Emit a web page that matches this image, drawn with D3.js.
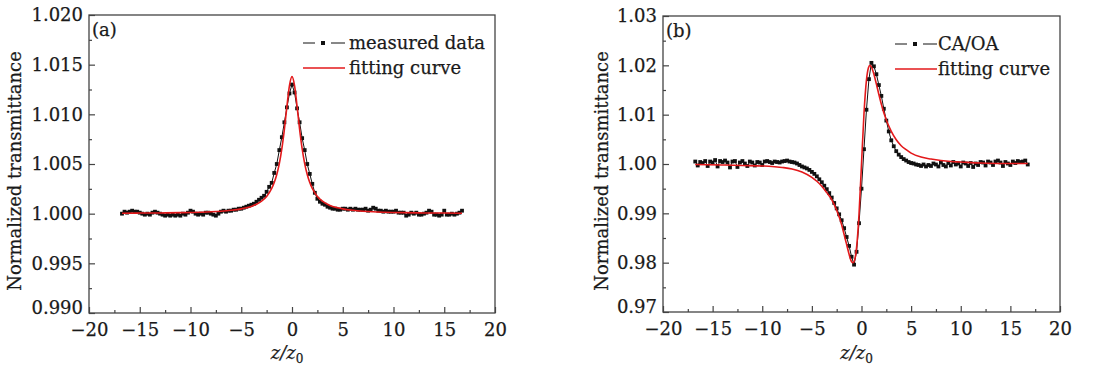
<!DOCTYPE html>
<html>
<head>
<meta charset="utf-8">
<script src="https://cdn.jsdelivr.net/npm/d3@7"></script>
<style>
  body { margin: 0; background: #fff; }
  svg text { font-family: "DejaVu Serif", serif; fill: #1a1a1a; stroke: #1a1a1a; stroke-width: 0.25px; }
</style>
</head>
<body>
<svg id="chart" width="1093" height="367"></svg>
<script>
// z/z0 positions of the measured points (shared by both panels)
const zPos = [
  -16.75, -16.5, -16.25, -16, -15.75, -15.5, -15.25, -15, -14.75, -14.5, -14.25, -14,
  -13.75, -13.5, -13.25, -13, -12.75, -12.5, -12.25, -12, -11.75, -11.5, -11.25, -11,
  -10.75, -10.5, -10.25, -10, -9.75, -9.5, -9.25, -9, -8.75, -8.5, -8.25, -8,
  -7.75, -7.5, -7.25, -7, -6.75, -6.5, -6.25, -6, -5.75, -5.5, -5.25, -5,
  -4.75, -4.5, -4.25, -4, -3.75, -3.5, -3.25, -3, -2.75, -2.5, -2.25, -2,
  -1.75, -1.5, -1.25, -1, -0.75, -0.5, -0.25, 0, 0.25, 0.5, 0.75, 1,
  1.25, 1.5, 1.75, 2, 2.25, 2.5, 2.75, 3, 3.25, 3.5, 3.75, 4,
  4.25, 4.5, 4.75, 5, 5.25, 5.5, 5.75, 6, 6.25, 6.5, 6.75, 7,
  7.25, 7.5, 7.75, 8, 8.25, 8.5, 8.75, 9, 9.25, 9.5, 9.75, 10,
  10.25, 10.5, 10.75, 11, 11.25, 11.5, 11.75, 12, 12.25, 12.5, 12.75, 13,
  13.25, 13.5, 13.75, 14, 14.25, 14.5, 14.75, 15, 15.25, 15.5, 15.75, 16,
  16.25, 16.5, 16.75
];

// (a) measured data
const measuredA = [
  1.0000, 1.0002, 1.0001, 1.0002, 1.0003, 1.0002, 1.0002, 1.0001, 1.0000, 0.9999, 1.0000, 0.9999,
  1.0001, 1.0002, 1.0001, 1.0000, 0.9999, 0.9998, 0.9999, 0.9998, 0.9999, 0.9998, 0.9999, 0.9998,
  1.0000, 0.9999, 1.0001, 1.0003, 1.0002, 1.0000, 0.9999, 1.0000, 0.9999, 1.0001, 1.0001, 1.0000,
  0.9999, 0.9998, 1.0000, 1.0002, 1.0003, 1.0002, 1.0003, 1.0003, 1.0004, 1.0004, 1.0005, 1.0005,
  1.0006, 1.0007, 1.0008, 1.0009, 1.0010, 1.0012, 1.0014, 1.0016, 1.0018, 1.0022, 1.0027, 1.0031,
  1.0041, 1.0050, 1.0064, 1.0077, 1.0092, 1.0107, 1.0121, 1.0130, 1.0122, 1.0106, 1.0092, 1.0076,
  1.0064, 1.0050, 1.0040, 1.0030, 1.0021, 1.0015, 1.0012, 1.0010, 1.0009, 1.0007, 1.0006, 1.0005,
  1.0005, 1.0004, 1.0004, 1.0005, 1.0005, 1.0004, 1.0005, 1.0004, 1.0005, 1.0004, 1.0004, 1.0004,
  1.0005, 1.0003, 1.0004, 1.0006, 1.0005, 1.0003, 1.0003, 1.0002, 1.0003, 1.0002, 1.0002, 1.0002,
  1.0003, 1.0001, 1.0001, 1.0001, 0.9998, 0.9999, 1.0001, 1.0000, 1.0001, 0.9999, 0.9999, 1.0000,
  1.0001, 1.0003, 1.0002, 0.9999, 0.9999, 0.9998, 0.9999, 1.0003, 0.9999, 0.9999, 1.0000, 0.9999,
  1.0000, 1.0001, 1.0003
];

// (b) measured CA/OA
const measuredB = [
  1.0005, 0.9997, 1.0004, 1.0002, 1.0006, 0.9996, 1.0005, 1.0003, 1.0008, 0.9995, 1.0006, 1.0004,
  1.0007, 1.0003, 0.9993, 1.0005, 1.0006, 0.9994, 1.0003, 1.0006, 1.0001, 0.9996, 1.0005, 1.0003,
  0.9997, 1.0004, 1.0003, 0.9998, 1.0005, 1.0006, 1.0004, 1.0002, 1.0005, 1.0004, 1.0003, 1.0005,
  1.0006, 1.0007, 1.0005, 1.0004, 1.0003, 1.0001, 0.9998, 0.9995, 0.9993, 0.9991, 0.9988, 0.9984,
  0.9980, 0.9975, 0.9969, 0.9963, 0.9956, 0.9949, 0.9941, 0.9932, 0.9921, 0.9910, 0.9898, 0.9886,
  0.9870, 0.9852, 0.9834, 0.9812, 0.9796, 0.9822, 0.9880, 0.9950, 1.0030, 1.0110, 1.0172, 1.0205,
  1.0198, 1.0182, 1.0160, 1.0138, 1.0112, 1.0088, 1.0066, 1.0048, 1.0036, 1.0026, 1.0019, 1.0014,
  1.0010, 1.0007, 1.0004, 1.0002, 1.0001, 0.9999, 0.9998, 0.9996, 0.9999, 0.9995, 0.9998, 0.9996,
  1.0001, 0.9999, 0.9995, 1.0003, 0.9998, 0.9995, 1.0002, 0.9997, 1.0004, 0.9999, 1.0001, 0.9995,
  1.0003, 1.0001, 0.9996, 1.0002, 0.9994, 1.0001, 0.9998, 1.0004, 1.0003, 0.9997, 1.0005, 1.0003,
  0.9998, 1.0005, 1.0007, 1.0003, 0.9996, 1.0004, 1.0001, 0.9998, 1.0005, 1.0002, 1.0006, 1.0004,
  1.0005, 1.0007, 0.9999
];

// fitting curves
const fitZA = [
  -16.75, -15, -13, -11, -9, -8, -7, -6, -5, -4.5, -4, -3.5, -3, -2.5, -2, -1.75, -1.5, -1.25,
  -1, -0.75, -0.5, -0.25, 0, 0.25, 0.5, 0.75, 1, 1.25, 1.5, 1.75, 2, 2.5, 3, 3.5, 4, 4.5,
  5, 6, 7, 8, 9, 11, 13, 15, 16.75
];
const fitA = [
  1.00004, 1.00006, 1.00007, 1.00010, 1.00015, 1.00019, 1.00025, 1.00034, 1.00048, 1.00059, 1.00073, 1.00095, 1.00126, 1.00174, 1.00254, 1.00314, 1.00394, 1.00504,
  1.00654, 1.00849, 1.01080, 1.01290, 1.01380, 1.01290, 1.01080, 1.00849, 1.00654, 1.00504, 1.00394, 1.00314, 1.00254, 1.00174, 1.00126, 1.00095, 1.00073, 1.00059,
  1.00048, 1.00034, 1.00025, 1.00019, 1.00015, 1.00010, 1.00007, 1.00006, 1.00004
];
const fitZB = [
  -16.75, -14, -12, -10, -9, -8, -7, -6, -5, -4.5, -4, -3.5, -3, -2.5, -2, -1.75, -1.5, -1.25,
  -1, -0.85, -0.7, -0.5, -0.25, 0, 0.25, 0.5, 0.7, 0.85, 1, 1.25, 1.5, 1.75, 2, 2.5, 3, 3.5,
  4, 4.5, 5, 6, 7, 8, 9, 10, 12, 14, 16.75
];
const fitB = [
  0.9999, 0.9998, 0.9997, 0.9996, 0.9995, 0.9993, 0.9990, 0.9984, 0.9973, 0.9965, 0.9955, 0.9942, 0.9928, 0.9906, 0.9877, 0.9857, 0.9837, 0.9817,
  0.9802, 0.9800, 0.9805, 0.9830, 0.9898, 1.0000, 1.0102, 1.0170, 1.0195, 1.0200, 1.0197, 1.0182, 1.0162, 1.0141, 1.0121, 1.0089, 1.0066, 1.0049,
  1.0037, 1.0029, 1.0022, 1.0014, 1.0010, 1.0007, 1.0005, 1.0004, 1.0002, 1.0001, 1.0001
];

const xTicks = [-20, -15, -10, -5, 0, 5, 10, 15, 20];
const xMinor = [-17.5, -12.5, -7.5, -2.5, 2.5, 7.5, 12.5, 17.5];
const yTicksA = [0.990, 0.995, 1.000, 1.005, 1.010, 1.015, 1.020];
const yMinorA = [0.9925, 0.9975, 1.0025, 1.0075, 1.0125, 1.0175];
const yTicksB = [0.97, 0.98, 0.99, 1.00, 1.01, 1.02, 1.03];
const yMinorB = [0.975, 0.985, 0.995, 1.005, 1.015, 1.025];

const RED = '#e3191b';
const FS = 18;
const svg = d3.select('#chart');
svg.append('rect').attr('width', 1093).attr('height', 367).attr('fill', '#fff');

function drawPanel(p) {
  const x = d3.scaleLinear().domain([-20, 20]).range([p.left, p.right]);
  const y = d3.scaleLinear().domain(p.yDomain).range([p.bottom, p.top]);
  const g = svg.append('g');

  // minor ticks
  g.append('g')
    .attr('transform', `translate(0,${p.bottom})`)
    .call(d3.axisBottom(x).tickValues(xMinor).tickSize(-3).tickSizeOuter(0).tickFormat(''))
    .call(s => s.select('.domain').remove());
  g.append('g')
    .attr('transform', `translate(${p.left},0)`)
    .call(d3.axisLeft(y).tickValues(p.yMinor).tickSize(-3).tickSizeOuter(0).tickFormat(''))
    .call(s => s.select('.domain').remove());

  // major ticks + labels
  const xa = g.append('g')
    .attr('transform', `translate(0,${p.bottom})`)
    .call(d3.axisBottom(x).tickValues(xTicks).tickSize(-6).tickSizeOuter(0).tickPadding(10).tickFormat(d3.format('d')));
  const ya = g.append('g')
    .attr('transform', `translate(${p.left},0)`)
    .call(d3.axisLeft(y).tickValues(p.yTicks).tickSize(-6).tickSizeOuter(0).tickPadding(6).tickFormat(d3.format(p.yFmt)));
  [xa, ya].forEach(a => {
    a.select('.domain').remove();
    a.selectAll('text').attr('font-size', FS).attr('font-family', '"DejaVu Serif", serif').attr('fill', '#1a1a1a');
  });
  // lift the lowest y label a touch so it clears the first x label
  ya.selectAll('.tick text').filter(d => d === p.yDomain[0]).attr('y', -5);
  g.selectAll('.tick line').attr('stroke', '#444').attr('stroke-width', 1.2);

  // frame
  g.append('rect')
    .attr('x', p.left).attr('y', p.top)
    .attr('width', p.right - p.left).attr('height', p.bottom - p.top)
    .attr('fill', 'none').attr('stroke', '#444').attr('stroke-width', 1.3);

  // measured line + squares
  const pts = zPos.map((z, i) => [z, p.measured[i]]);
  g.append('path')
    .datum(pts)
    .attr('fill', 'none').attr('stroke', '#111').attr('stroke-width', 1)
    .attr('d', d3.line().x(d => x(d[0])).y(d => y(d[1])));
  g.selectAll('rect.pt').data(pts).enter().append('rect')
    .attr('class', 'pt')
    .attr('x', d => x(d[0]) - 1.9).attr('y', d => y(d[1]) - 1.9)
    .attr('width', 3.8).attr('height', 3.8).attr('fill', '#111');

  // fitting curve
  g.append('path')
    .datum(p.fitZ.map((z, i) => [z, p.fit[i]]))
    .attr('fill', 'none').attr('stroke', RED).attr('stroke-width', 1.6)
    .attr('d', d3.line().curve(d3.curveMonotoneX).x(d => x(d[0])).y(d => y(d[1])));

  // panel tag
  g.append('text').attr('x', p.left + 3).attr('y', p.top + 21).attr('font-size', FS).text(p.tag);

  // legend
  const lx = p.legX, ly = p.top + 28;
  g.append('line').attr('x1', lx).attr('x2', lx + 12).attr('y1', ly).attr('y2', ly).attr('stroke', '#111');
  g.append('rect').attr('x', lx + 18).attr('y', ly - 2).attr('width', 4).attr('height', 4).attr('fill', '#111');
  g.append('line').attr('x1', lx + 28).attr('x2', lx + 42).attr('y1', ly).attr('y2', ly).attr('stroke', '#111');
  g.append('text').attr('x', lx + 42 + p.legGap).attr('y', ly + 6).attr('font-size', FS).text(p.legend);
  g.append('line').attr('x1', lx).attr('x2', lx + 42).attr('y1', ly + 25).attr('y2', ly + 25)
    .attr('stroke', RED).attr('stroke-width', 1.6);
  g.append('text').attr('x', lx + 42 + p.legGap).attr('y', ly + 31).attr('font-size', FS).text('fitting curve');

  // axis titles
  const xt = g.append('text')
    .attr('x', (p.left + p.right) / 2 - 5).attr('y', 359)
    .attr('text-anchor', 'middle').attr('font-size', FS);
  xt.append('tspan').attr('font-style', 'italic').text('z/z');
  xt.append('tspan').attr('font-size', 12).attr('dy', 4).text('0');

  g.append('text')
    .attr('transform', `translate(${p.yTitleX},171) rotate(-90)`)
    .attr('text-anchor', 'middle').attr('font-size', FS)
    .text('Normalized transmittance');
}

drawPanel({
  left: 89, right: 495, top: 15, bottom: 313,
  yDomain: [0.990, 1.020], yTicks: yTicksA, yMinor: yMinorA, yFmt: '.3f',
  measured: measuredA, fitZ: fitZA, fit: fitA,
  tag: '(a)', legend: 'measured data', legX: 303, legGap: 4, yTitleX: 21
});
drawPanel({
  left: 663, right: 1060, top: 16, bottom: 312,
  yDomain: [0.97, 1.03], yTicks: yTicksB, yMinor: yMinorB, yFmt: '.2f',
  measured: measuredB, fitZ: fitZB, fit: fitB,
  tag: '(b)', legend: 'CA/OA', legX: 895, legGap: 1, yTitleX: 608
});
</script>
</body>
</html>
